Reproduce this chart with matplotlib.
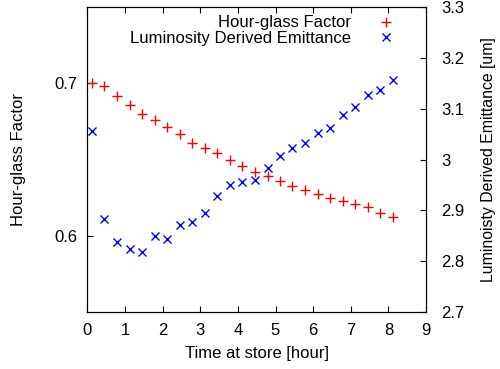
import matplotlib
matplotlib.use("Agg")
import matplotlib.pyplot as plt

plt.rcParams['font.family'] = ['Liberation Sans', 'DejaVu Sans']

# time at store [hour]
time_h = [0.12, 0.45, 0.79, 1.12, 1.45, 1.79, 2.12, 2.45, 2.79, 3.12,
          3.45, 3.79, 4.12, 4.45, 4.79, 5.12, 5.45, 5.79, 6.12, 6.45,
          6.79, 7.12, 7.45, 7.79, 8.12]

hourglass = [0.700, 0.6985, 0.6918, 0.6855, 0.680, 0.6762, 0.6712, 0.667,
             0.6606, 0.6573, 0.6541, 0.650, 0.646, 0.6415, 0.6394, 0.6361,
             0.6329, 0.6297, 0.6275, 0.6247, 0.6229, 0.6206, 0.619, 0.615,
             0.6122]

emittance = [3.056, 2.882, 2.837, 2.823, 2.819, 2.850, 2.843, 2.871, 2.877,
             2.894, 2.928, 2.950, 2.956, 2.960, 2.983, 3.006, 3.023, 3.032,
             3.052, 3.062, 3.087, 3.103, 3.126, 3.137, 3.157]

fig = plt.figure(figsize=(5.0, 3.69), dpi=100)
ax = fig.add_axes([0.1748, 0.1545, 0.852 - 0.1748, 0.981 - 0.1545])
ax2 = ax.twinx()

l1, = ax.plot(time_h, hourglass, linestyle='none', marker='+', color='red',
              markersize=7, markeredgewidth=1.0, label='Hour-glass Factor')
l2, = ax2.plot(time_h, emittance, linestyle='none', marker='x', color='blue',
               markersize=6, markeredgewidth=1.0,
               label='Luminosity Derived Emittance')

ax.set_xlim(0, 9)
ax.set_ylim(0.55, 0.75)
ax2.set_ylim(2.7, 3.3)
ax.set_xticks(range(0, 10))
ax.set_yticks([0.6, 0.7])
ax2.set_yticks([2.7, 2.8, 2.9, 3.0, 3.1, 3.2, 3.3])
ax2.set_yticklabels(['2.7', '2.8', '2.9', '3', '3.1', '3.2', '3.3'])

ax.tick_params(axis='x', direction='in', top=True, length=4, labelsize=12, pad=8)
ax.tick_params(axis='y', direction='in', length=4, labelsize=12, pad=7)
ax2.tick_params(axis='y', direction='in', length=4, labelsize=12, pad=11)

ax.set_xlabel('Time at store [hour]', fontsize=12, labelpad=6)
ax.set_ylabel('Hour-glass Factor', fontsize=12, labelpad=21)
ax2.set_ylabel('Luminoisty Derived Emittance [um]', fontsize=11.4, labelpad=12)

ax.legend(handles=[l1, l2], loc='upper right', frameon=False, markerfirst=False,
          fontsize=12, handlelength=1.0, handletextpad=1.6, labelspacing=0.05,
          borderaxespad=0.1, bbox_to_anchor=(0.93, 1.0))

fig.savefig('out.png', dpi=100)
